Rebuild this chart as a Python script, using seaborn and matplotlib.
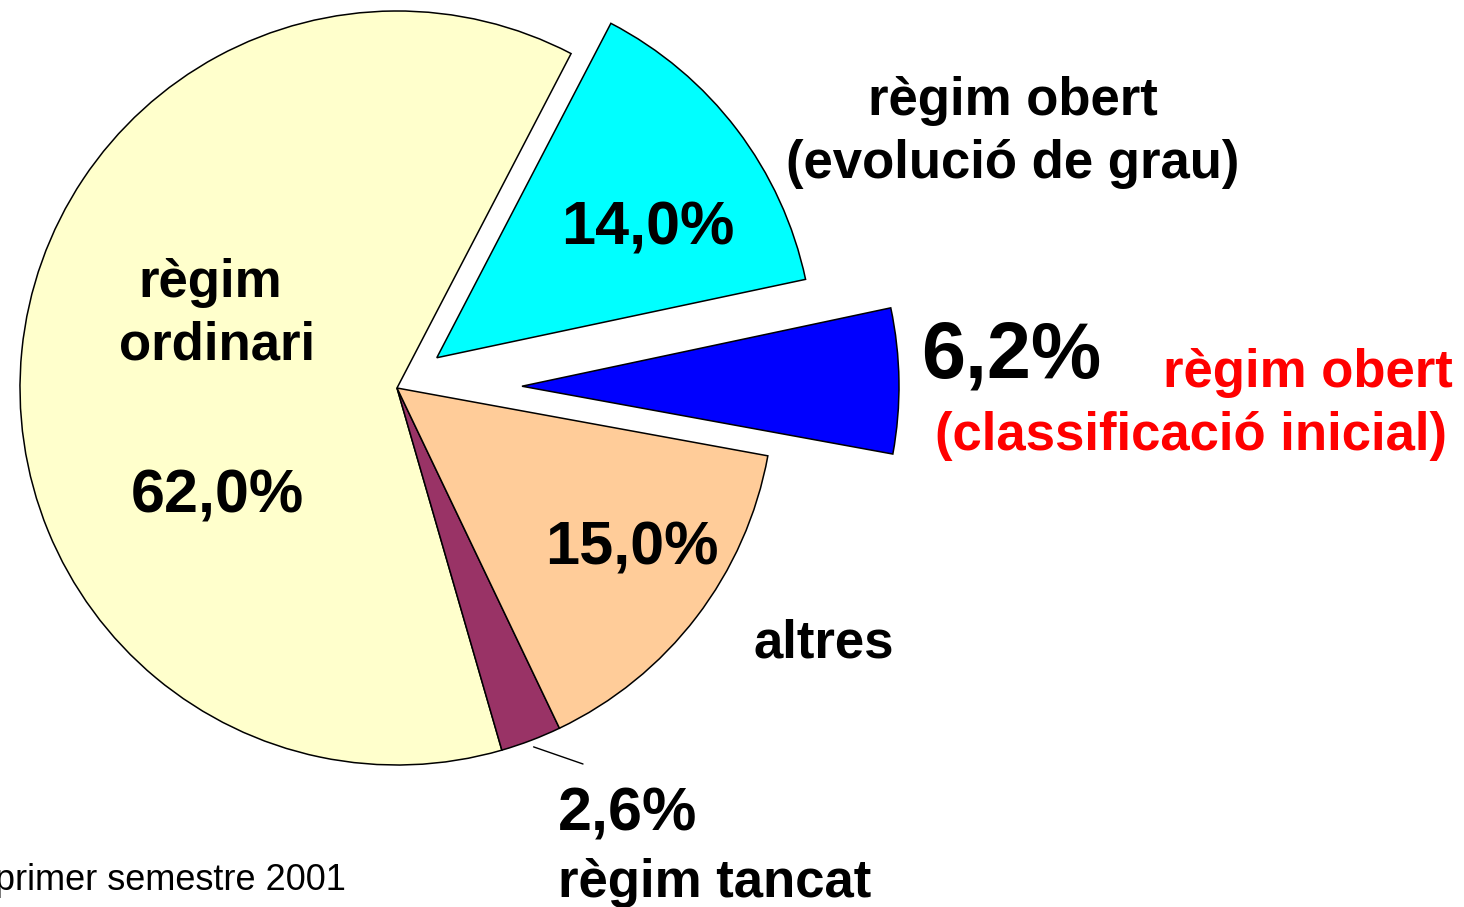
import numpy as np
import matplotlib
matplotlib.use("Agg")
import matplotlib.pyplot as plt
import seaborn as sns

# slice data, in drawing order (counter-clockwise from the top boundary)
categories = ["règim ordinari", "règim tancat", "altres",
              "règim obert (classificació inicial)", "règim obert (evolució de grau)"]
shares = [62.0, 2.6, 15.0, 6.2, 14.0]
pct_labels = ["62,0%", "2,6%", "15,0%", "6,2%", "14,0%"]
slice_colors = ["#FFFFCC", "#993366", "#FFCC99", "#0000FF", "#00FFFF"]
footnote = "primer semestre 2001"

sns.set_style("white")
plt.rcParams['font.family'] = ['Liberation Sans', 'DejaVu Sans']

W, H = 1464, 907
fig = plt.figure(figsize=(W / 100, H / 100), dpi=100)
ax = fig.add_axes([0, 0, 1, 1])

cx, cy, R = 397, H - 388, 377
explode = [0, 0, 0, 125, 50]

wedges, _ = ax.pie(shares, colors=slice_colors, startangle=62.5, counterclock=True,
                   explode=explode, radius=R, center=(cx, cy),
                   wedgeprops=dict(edgecolor="black", linewidth=1.1))

ax.set_xlim(0, W)
ax.set_ylim(0, H)
ax.set_aspect("equal")
ax.axis("off")


def txt(x, y, s, size, color="black", weight="bold", ha="center"):
    ax.text(x, H - y, s, fontsize=size, color=color, fontweight=weight,
            ha=ha, va="baseline")


# règim ordinari
txt(210, 297, "règim", 38)
txt(217, 360, "ordinari", 38)
txt(217, 513, pct_labels[0], 44)

# règim obert (evolució de grau)
txt(648, 245, pct_labels[4], 44)
txt(1013, 115, "règim obert", 38)
txt(1013, 178, "(evolució de grau)", 38)

# règim obert (classificació inicial)
txt(921, 378, pct_labels[3], 57, ha="left")
txt(1453, 387, "règim obert", 38, color="#FF0000", ha="right")
txt(1447, 450, "(classificació inicial)", 38, color="#FF0000", ha="right")

# altres
txt(632, 565, pct_labels[2], 44)
txt(824, 658, "altres", 38)

# règim tancat with leader line
w = wedges[1]
tm = np.deg2rad((w.theta1 + w.theta2) / 2)
x0, y0 = cx + (R + 7) * np.cos(tm), cy + (R + 7) * np.sin(tm)
ax.plot([x0, 583], [y0, H - 764], color="black", linewidth=1.0)
txt(558, 830, pct_labels[1], 44, ha="left")
txt(558, 897, "règim tancat", 38, ha="left")

txt(346, 890, footnote, 26, weight="normal", ha="right")

fig.savefig("out.png", dpi=100)
